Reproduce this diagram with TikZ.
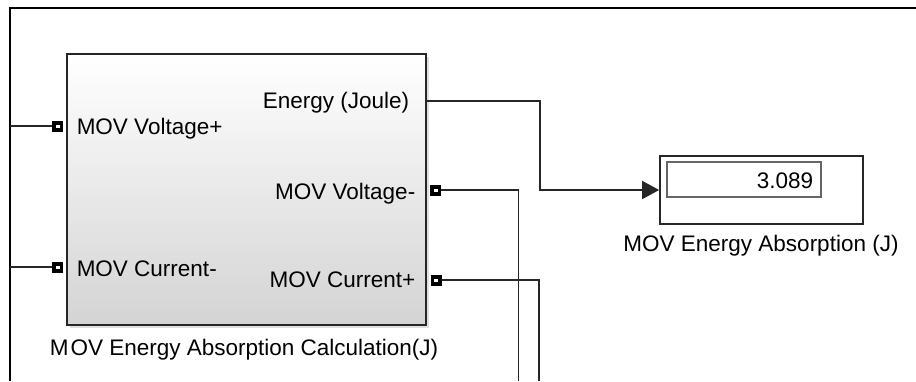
\documentclass[tikz,border=0pt]{standalone}
\usepackage{fontspec}
\setmainfont{Liberation Sans}
\usetikzlibrary{shadows,arrows.meta}

\begin{document}
\begin{tikzpicture}[x=1pt, y=-1pt, line width=1.5pt, line join=miter,
    font=\fontsize{22.5}{26}\selectfont,
    bloque/.style={draw=black!85, line width=1.8pt, top color=white, bottom color=black!17,
      drop shadow={shadow xshift=3pt, shadow yshift=-3pt, opacity=0.25}},
    puerto/.style={draw, fill=black, line width=0.5pt, minimum size=10pt, inner sep=0pt,
      path picture={\fill[white] (path picture bounding box.center) ++(-2pt,-1.5pt) rectangle ++(4pt,3pt);}},
    cable/.style={draw=black!85, line width=1.6pt},
    rotulo/.style={inner sep=0pt}]
  \useasboundingbox (0,0) rectangle (916,381);
  % el marco del subsistema
  \draw[line width=2.8pt] (10,381) -- (10,8) -- (916,8);
  % el bloque de calculo, con sus puertos y rotulos
  \node[bloque, minimum width=359pt, minimum height=271pt] (calc) at (246.5,189.5) {};
  \node[puerto] (pVmas) at (57.5,126) {};
  \node[puerto] (pImenos) at (57.5,267) {};
  \node[puerto] (pVmenos) at (435.5,190) {};
  \node[puerto] (pImas) at (436,280) {};
  \node[rotulo, anchor=base west] (tVmas) at (76,134) {MOV Voltage+};
  \node[rotulo, anchor=base west] (tImenos) at (76,276) {MOV Current-};
  \node[rotulo, anchor=base east] (tE) at (410,108) {Energy (Joule)};
  \node[rotulo, anchor=base east] (tVmenos) at (416,199) {MOV Voltage-};
  \node[rotulo, anchor=base east] (tImas) at (416,287) {MOV Current+};
  \node[rotulo, anchor=base] (tcalc) at (244,355) {M\kern2pt OV Energy Absorption Calculation(J)};
  % el display, con el valor
  \node[draw=black!85, line width=1.7pt, minimum width=203pt, minimum height=68pt] (disp) at (761.5,190) {};
  \node[draw=black!60, line width=1.1pt, minimum width=154pt, minimum height=35pt] (valor) at (744,179.5) {};
  \node[rotulo, anchor=base east] (num) at (814,188) {3.089};
  \node[rotulo, anchor=base] (tdisp) at (761,251) {MOV Energy Absorption (J)};
  % los cables
  \coordinate (eV) at (10,126);
  \coordinate (eI) at (10,267);
  \coordinate (sE) at (427,101);
  \coordinate (codoE) at (540,190);
  \coordinate (fV) at (518.5,381);
  \coordinate (fI) at (539,381);
  \draw[cable] (eV) -- (pVmas.west);
  \draw[cable] (eI) -- (pImenos.west);
  \draw[cable, -{Triangle[length=17pt, width=18pt]}] (sE) -| (codoE) -- (disp.west);
  \draw[cable] (pVmenos.east) -| (fV);
  \draw[cable] (pImas.east) -| (fI);
\end{tikzpicture}
\end{document}
